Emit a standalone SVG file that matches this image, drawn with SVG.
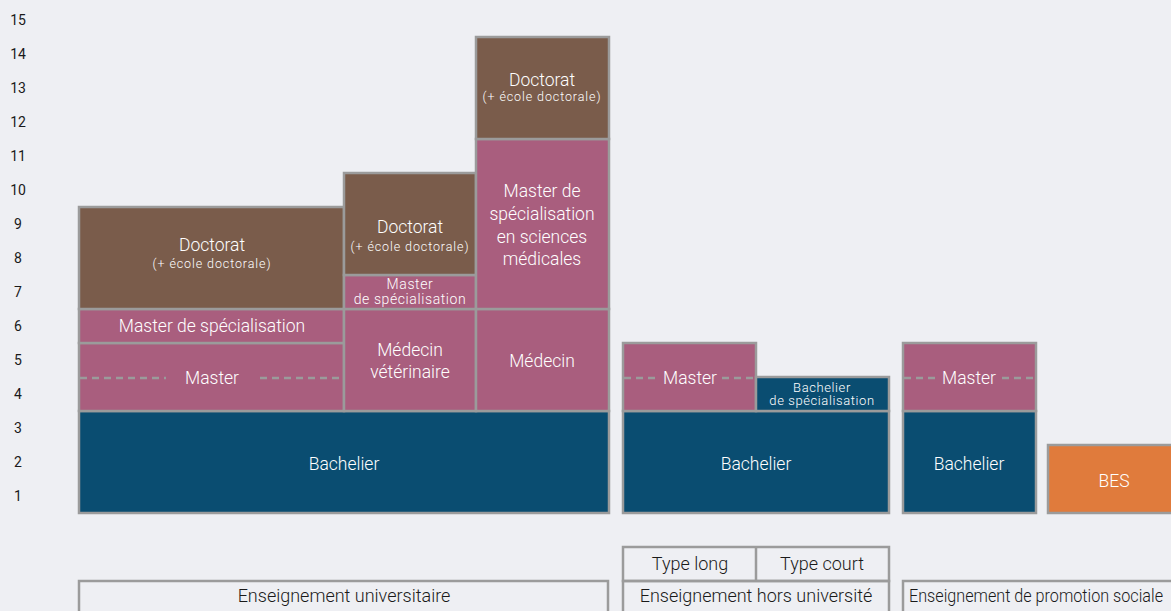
<svg xmlns="http://www.w3.org/2000/svg" width="1171" height="611" viewBox="0 0 1171 611">
<style>
.bx{stroke:#9b9b9b;stroke-width:2.5}
.br{fill:#7a5c4b}.pk{fill:#a95e7e}.bl{fill:#0a4d71}.or{fill:#e07b3c}.lb{fill:none}
text{font-family:Roboto,"Liberation Sans",sans-serif;text-anchor:middle;font-weight:300}
.w{fill:#ffffff;font-size:17.5px}
.ws{fill:#ffffff;font-size:12.5px;letter-spacing:0.9px}
.wm{fill:#ffffff;font-size:14px;letter-spacing:0.6px}
.ax{fill:#1a1a1a;font-size:14px;font-weight:400}
.k{fill:#1a1a1a;font-size:18px}
.dash{stroke:#9b9b9b;stroke-width:2.5;stroke-dasharray:7 5;fill:none}
</style>
<rect width="1171" height="611" fill="#eeeff3"/>
<g id="axis">
<text class="ax" x="18" y="25">15</text>
<text class="ax" x="18" y="59">14</text>
<text class="ax" x="18" y="93">13</text>
<text class="ax" x="18" y="127">12</text>
<text class="ax" x="18" y="161">11</text>
<text class="ax" x="18" y="195">10</text>
<text class="ax" x="18" y="229">9</text>
<text class="ax" x="18" y="263">8</text>
<text class="ax" x="18" y="297">7</text>
<text class="ax" x="18" y="331">6</text>
<text class="ax" x="18" y="365">5</text>
<text class="ax" x="18" y="399">4</text>
<text class="ax" x="18" y="433">3</text>
<text class="ax" x="18" y="467">2</text>
<text class="ax" x="18" y="501">1</text>
</g>
<g id="univ-bachelier"><rect class="bx bl" x="79" y="411" width="530" height="102"/><text class="w" x="344" y="470">Bachelier</text></g>
<g id="univ-master"><rect class="bx pk" x="79" y="343" width="265" height="68"/><path class="dash" d="M80 378H166M260 378H343"/><text class="w" x="212" y="384">Master</text></g>
<g id="univ-msp"><rect class="bx pk" x="79" y="309" width="265" height="34"/><text class="w" x="212" y="332">Master de spécialisation</text></g>
<g id="univ-doct"><rect class="bx br" x="79" y="207" width="265" height="102"/><text class="w" x="212" y="251">Doctorat</text><text class="ws" x="212" y="268">(+ école doctorale)</text></g>
<g id="vet"><rect class="bx pk" x="344" y="309" width="132" height="102"/><text class="w" x="410" y="356">Médecin</text><text class="w" x="410" y="378">vétérinaire</text></g>
<g id="vet-msp"><rect class="bx pk" x="344" y="275" width="132" height="34"/><text class="wm" x="410" y="289">Master</text><text class="wm" x="410" y="304">de spécialisation</text></g>
<g id="vet-doct"><rect class="bx br" x="344" y="173" width="132" height="102"/><text class="w" x="410" y="233">Doctorat</text><text class="ws" x="410" y="251">(+ école doctorale)</text></g>
<g id="med"><rect class="bx pk" x="476" y="309" width="133" height="102"/><text class="w" x="542" y="367">Médecin</text></g>
<g id="med-msp"><rect class="bx pk" x="476" y="139" width="133" height="170"/><text class="w" x="542" y="197">Master de</text><text class="w" x="542" y="220">spécialisation</text><text class="w" x="542" y="243">en sciences</text><text class="w" x="542" y="265">médicales</text></g>
<g id="med-doct"><rect class="bx br" x="476" y="37" width="133" height="102"/><text class="w" x="542" y="86">Doctorat</text><text class="ws" x="542" y="101">(+ école doctorale)</text></g>
<g id="hu-bachelier"><rect class="bx bl" x="623" y="411" width="266" height="102"/><text class="w" x="756" y="470">Bachelier</text></g>
<g id="hu-master"><rect class="bx pk" x="623" y="343" width="133" height="68"/><path class="dash" d="M624 378H657M722 378H755"/><text class="w" x="690" y="384">Master</text></g>
<g id="hu-bsp"><rect class="bx bl" x="756" y="377" width="133" height="34"/><text class="wm" x="822" y="392" style="font-size:13px">Bachelier</text><text class="wm" x="822" y="405" style="font-size:13px">de spécialisation</text></g>
<g id="ps-bachelier"><rect class="bx bl" x="903" y="411" width="133" height="102"/><text class="w" x="969" y="470">Bachelier</text></g>
<g id="ps-master"><rect class="bx pk" x="903" y="343" width="133" height="68"/><path class="dash" d="M904 378H937M1002 378H1035"/><text class="w" x="969" y="384">Master</text></g>
<g id="bes"><rect class="bx or" x="1048" y="445" width="130" height="68"/><text class="w" x="1114" y="487">BES</text></g>
<g id="lbl-univ"><rect class="bx lb" x="79" y="581" width="529" height="40"/><text class="k" x="344" y="602">Enseignement universitaire</text></g>
<g id="lbl-types"><rect class="bx lb" x="623" y="547" width="266" height="34"/><line class="bx" x1="756" y1="547" x2="756" y2="581"/><text class="k" x="690" y="570">Type long</text><text class="k" x="822" y="570">Type court</text></g>
<g id="lbl-hu"><rect class="bx lb" x="623" y="581" width="266" height="40"/><text class="k" x="756" y="602">Enseignement hors université</text></g>
<g id="lbl-ps"><rect class="bx lb" x="903" y="581" width="280" height="40"/><text class="k" x="1036" y="602" textLength="254" lengthAdjust="spacingAndGlyphs">Enseignement de promotion sociale</text></g>
<g id="connectors"/>
</svg>
